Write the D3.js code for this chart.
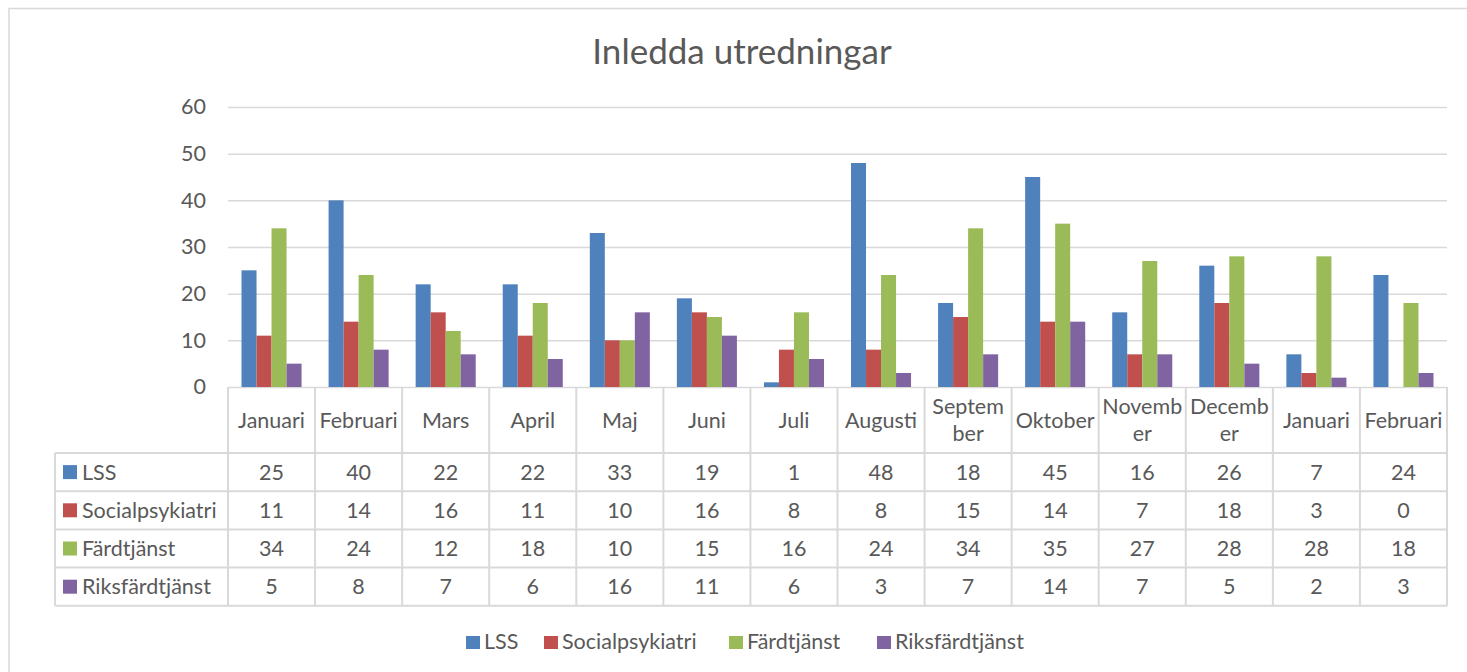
<!DOCTYPE html>
<html>
<head>
<meta charset="utf-8">
<script src="https://cdn.jsdelivr.net/npm/d3@7"></script>
<style>
  body { margin: 0; background: #fff; }
  svg { font-family: Lato, "Noto Sans", sans-serif; }
</style>
</head>
<body>
<svg id="chart" width="1467" height="672"></svg>
<script>
// data
const months = ["Januari", "Februari", "Mars", "April", "Maj", "Juni", "Juli", "Augusti",
    "September", "Oktober", "November", "December", "Januari", "Februari"];
// tick labels, wrapped the way the table header wraps them
const monthLabels = ["Januari", "Februari", "Mars", "April", "Maj", "Juni", "Juli", "Augusti",
    "Septem|ber", "Oktober", "Novemb|er", "Decemb|er", "Januari", "Februari"];
const seriesNames = ["LSS", "Socialpsykiatri", "Färdtjänst", "Riksfärdtjänst"];
const lss = [25, 40, 22, 22, 33, 19, 1, 48, 18, 45, 16, 26, 7, 24];
const socialpsykiatri = [11, 14, 16, 11, 10, 16, 8, 8, 15, 14, 7, 18, 3, 0];
const fardtjanst = [34, 24, 12, 18, 10, 15, 16, 24, 34, 35, 27, 28, 28, 18];
const riksfardtjanst = [5, 8, 7, 6, 16, 11, 6, 3, 7, 14, 7, 5, 2, 3];
const yTicks = [0, 10, 20, 30, 40, 50, 60];

const seriesValues = [lss, socialpsykiatri, fardtjanst, riksfardtjanst];
const colors = ["#4F81BD", "#C0504D", "#9BBB59", "#8064A2"];
const textColor = "#595959";
const lineColor = "#D9D9D9";
const fontSize = 21.5;

let svg = d3.select("#chart");

let MARGINS = {left: 228, right: 1447, top: 107, bottom: 387},
    tableLeft = 55,
    headerBottom = 453,
    rowHeight = 38.2;

// outer chart frame (only its top and left sides are in view)
svg.append("path")
    .attr("d", "M9,672 V8.5 H1467")
    .attr("fill", "none")
    .attr("stroke", lineColor)
    .attr("stroke-width", 1.5);

svg.append("text")
    .attr("x", 742)
    .attr("y", 64)
    .attr("text-anchor", "middle")
    .attr("fill", textColor)
    .attr("font-size", 35)
    .text("Inledda utredningar");

let xScale = d3.scaleBand()
    .domain(d3.range(months.length))
    .range([MARGINS.left, MARGINS.right])
    .padding(0);

let xInner = d3.scaleBand()
    .domain(d3.range(seriesNames.length))
    .range([0, xScale.bandwidth()])
    .paddingInner(0)
    .paddingOuter(0.9);

let yScale = d3.scaleLinear()
    .domain([0, 60])
    .range([MARGINS.bottom, MARGINS.top]);

let yAxis = d3.axisLeft(yScale)
    .tickValues(yTicks)
    .tickSize(-(MARGINS.right - MARGINS.left))
    .tickPadding(22);

let yG = svg.append("g")
    .attr("transform", "translate(" + MARGINS.left + ",0)")
    .call(yAxis);
yG.select(".domain").remove();
yG.selectAll(".tick line").attr("stroke", lineColor).attr("stroke-width", 1.5);
yG.selectAll(".tick text")
    .attr("fill", textColor)
    .attr("font-size", fontSize)
    .attr("font-family", "Lato, sans-serif");

// bars
seriesValues.forEach((values, s) => {
    svg.append("g")
        .attr("id", "series" + s)
        .selectAll("rect")
        .data(values)
        .enter()
        .append("rect")
        .attr("x", (d, i) => xScale(i) + xInner(s))
        .attr("width", xInner.bandwidth())
        .attr("y", d => yScale(d))
        .attr("height", d => yScale(0) - yScale(d))
        .attr("fill", colors[s]);
});

// data table
let table = svg.append("g");
let rowTop = r => headerBottom + r * rowHeight;
let tableBottom = rowTop(seriesNames.length);

// horizontal lines
table.selectAll("line.h")
    .data(d3.range(seriesNames.length + 1))
    .enter()
    .append("line")
    .attr("x1", tableLeft)
    .attr("x2", MARGINS.right)
    .attr("y1", r => rowTop(r))
    .attr("y2", r => rowTop(r));
// vertical lines
table.selectAll("line.v")
    .data(d3.range(months.length + 1))
    .enter()
    .append("line")
    .attr("x1", i => MARGINS.left + i * xScale.step())
    .attr("x2", i => MARGINS.left + i * xScale.step())
    .attr("y1", MARGINS.bottom)
    .attr("y2", tableBottom);
table.append("line")
    .attr("x1", tableLeft).attr("x2", tableLeft)
    .attr("y1", headerBottom).attr("y2", tableBottom);
table.selectAll("line")
    .attr("stroke", lineColor)
    .attr("stroke-width", 2);

// header labels
let header = table.selectAll("text.month")
    .data(monthLabels)
    .enter()
    .append("text")
    .attr("class", "month")
    .attr("text-anchor", "middle")
    .attr("fill", textColor)
    .attr("font-size", fontSize);
header.each(function (d, i) {
    let lines = d.split("|");
    let cx = xScale(i) + xScale.bandwidth() / 2;
    let cy = (MARGINS.bottom + headerBottom) / 2;
    let lh = 27;
    lines.forEach((line, k) => {
        d3.select(this).append("tspan")
            .attr("x", cx)
            .attr("y", cy + (k - (lines.length - 1) / 2) * lh + 7.5)
            .text(line);
    });
});

// row labels with legend keys
seriesNames.forEach((name, s) => {
    let cy = rowTop(s) + rowHeight / 2;
    table.append("rect")
        .attr("x", 63)
        .attr("y", cy - 7)
        .attr("width", 14)
        .attr("height", 14)
        .attr("fill", colors[s]);
    table.append("text")
        .attr("x", 82)
        .attr("y", cy + 7.5)
        .attr("fill", textColor)
        .attr("font-size", fontSize)
        .text(name);
    table.append("g")
        .selectAll("text")
        .data(seriesValues[s])
        .enter()
        .append("text")
        .attr("x", (d, i) => xScale(i) + xScale.bandwidth() / 2)
        .attr("y", cy + 7.5)
        .attr("text-anchor", "middle")
        .attr("fill", textColor)
        .attr("font-size", fontSize)
        .text(d => d);
});

// legend at the bottom
let legendX = [466, 544, 729, 877];
let legend = svg.append("g");
seriesNames.forEach((name, s) => {
    legend.append("rect")
        .attr("x", legendX[s])
        .attr("y", 636)
        .attr("width", 14)
        .attr("height", 13)
        .attr("fill", colors[s]);
    legend.append("text")
        .attr("x", legendX[s] + 18)
        .attr("y", 649)
        .attr("fill", textColor)
        .attr("font-size", fontSize)
        .text(name);
});
</script>
</body>
</html>
